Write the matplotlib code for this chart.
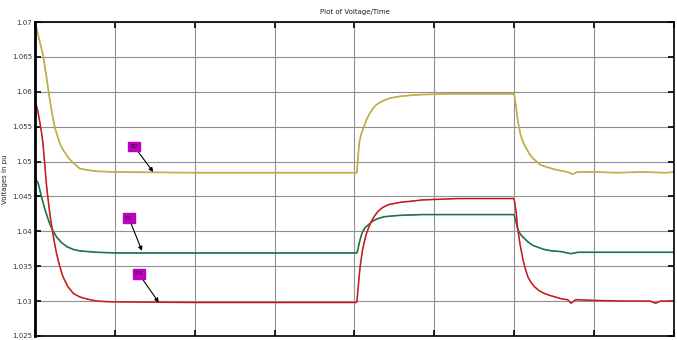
import numpy as np
import matplotlib.pyplot as plt

# ==== Bus voltages (pu) vs time ====
t_b2 = [0, 0.04, 0.10, 0.14, 0.17, 0.21, 0.25, 0.31, 0.35, 0.42, 0.48, 0.56, 0.65, 0.77,
        1.02, 2.0, 3.0, 4.02, 4.03, 4.04, 4.05, 4.06, 4.08, 4.125, 4.15, 4.19, 4.23, 4.27,
        4.32, 4.375, 4.45, 4.54, 4.7, 4.85, 5.2, 5.6, 5.99, 6.0, 6.02, 6.04, 6.06, 6.08,
        6.11, 6.15, 6.19, 6.23, 6.28, 6.33, 6.41, 6.5, 6.58, 6.67, 6.73, 6.79, 7.0, 7.3,
        7.6, 7.9, 8.0]
v_b2 = [1.0700, 1.0681, 1.0653, 1.0624, 1.0600, 1.0571, 1.0548, 1.0526, 1.0517, 1.0505,
        1.0498, 1.0490, 1.0488, 1.0486, 1.0485, 1.0484, 1.0484, 1.0484, 1.0484, 1.0500,
        1.0514, 1.0527, 1.0538, 1.0552, 1.0560, 1.0569, 1.0576, 1.0581, 1.0585, 1.0588,
        1.0591, 1.0593, 1.0595, 1.0596, 1.0597, 1.0597, 1.0597, 1.0595, 1.0581, 1.0562,
        1.0549, 1.0538, 1.0528, 1.0519, 1.0511, 1.0505, 1.0500, 1.0495, 1.0492, 1.0489,
        1.0487, 1.0485, 1.0482, 1.0485, 1.0485, 1.0484, 1.0485, 1.0484, 1.0485]

t_b1 = [0, 0.04, 0.08, 0.125, 0.16, 0.19, 0.22, 0.27, 0.33, 0.40, 0.48, 0.56, 0.77, 1.02,
        2.0, 3.0, 4.02, 4.03, 4.04, 4.055, 4.07, 4.085, 4.10, 4.13, 4.17, 4.21, 4.25, 4.31,
        4.375, 4.47, 4.58, 4.85, 5.3, 5.99, 6.0, 6.02, 6.04, 6.06, 6.09, 6.125, 6.17, 6.23,
        6.30, 6.375, 6.47, 6.58, 6.71, 6.8, 7.0, 7.5, 8.0]
v_b1 = [1.0476, 1.0469, 1.0450, 1.0431, 1.0419, 1.0409, 1.0402, 1.0392, 1.0384, 1.0378,
        1.0374, 1.0372, 1.0370, 1.0369, 1.0369, 1.0369, 1.0369, 1.0369, 1.0373, 1.0381,
        1.0388, 1.0394, 1.0399, 1.0405, 1.0409, 1.0413, 1.0416, 1.0419, 1.0421, 1.0422,
        1.0423, 1.0424, 1.0424, 1.0424, 1.0423, 1.0414, 1.0405, 1.0399, 1.0394, 1.0390,
        1.0385, 1.0380, 1.0377, 1.0374, 1.0372, 1.0371, 1.0368, 1.0370, 1.0370, 1.0370,
        1.0370]

t_b3 = [0, 0.01, 0.03, 0.06, 0.08, 0.10, 0.125, 0.145, 0.17, 0.19, 0.21, 0.24, 0.27, 0.31,
        0.35, 0.41, 0.48, 0.56, 0.65, 0.78, 0.94, 2.0, 3.0, 4.02, 4.03, 4.05, 4.06, 4.07,
        4.085, 4.10, 4.125, 4.15, 4.18, 4.21, 4.25, 4.29, 4.35, 4.42, 4.5, 4.60, 4.7, 4.85,
        5.3, 5.99, 6.0, 6.02, 6.03, 6.04, 6.055, 6.07, 6.09, 6.11, 6.14, 6.17, 6.21, 6.25,
        6.31, 6.375, 6.45, 6.54, 6.6, 6.67, 6.71, 6.77, 7.0, 7.4, 7.7, 7.77, 7.83, 8.0]
v_b3 = [1.0584, 1.0583, 1.0575, 1.0557, 1.0543, 1.0526, 1.0492, 1.0465, 1.0440, 1.0422,
        1.0407, 1.0386, 1.0368, 1.0350, 1.0335, 1.0321, 1.0311, 1.0306, 1.0303, 1.0300,
        1.0299, 1.0298, 1.0298, 1.0298, 1.0299, 1.0325, 1.0337, 1.0349, 1.0361, 1.0373,
        1.0386, 1.0397, 1.0406, 1.0414, 1.0422, 1.0428, 1.0434, 1.0438, 1.0440, 1.0442,
        1.0443, 1.0445, 1.0447, 1.0447, 1.0445, 1.0431, 1.0420, 1.0407, 1.0395, 1.0383,
        1.0371, 1.0359, 1.0346, 1.0335, 1.0327, 1.0321, 1.0315, 1.0311, 1.0308, 1.0305,
        1.0303, 1.0302, 1.0297, 1.0302, 1.0301, 1.0300, 1.0300, 1.0297, 1.0300, 1.0300]

# label text, box centre (t, v), arrow tip (t, v)
labels = ['B2', 'B1', 'B3']
label_pos = [(1.24, 1.0522), (1.175, 1.0419), (1.30, 1.0339)]
arrow_tip = [(1.48, 1.0485), (1.34, 1.0372), (1.55, 1.0298)]

fig = plt.figure(figsize=(6.77, 3.40), dpi=100)
ax = fig.add_axes([35/677, 4/340, 639/677, 314/340])

# under-layer gives the greyish edge, top layer the main colour
ax.plot(t_b2, v_b2, color='#b0a478', lw=1.2, marker='')
ax.plot(t_b2, v_b2, color='#d0b810', lw=0.6, marker='')
ax.plot(t_b1, v_b1, color='#4f6e64', lw=1.2, marker='')
ax.plot(t_b1, v_b1, color='#008030', lw=0.6, marker='')
ax.plot(t_b3, v_b3, color='#a06868', lw=1.2, marker='')
ax.plot(t_b3, v_b3, color='#ee0000', lw=0.7, marker='')

for txt, pos, tip in zip(labels, label_pos, arrow_tip):
    ax.annotate(txt, xy=tip, xytext=pos, fontsize=4.5, color='#300030',
                ha='center', va='center',
                bbox=dict(boxstyle='square,pad=0.35', fc='#c000c0', ec='#c000c0'),
                arrowprops=dict(arrowstyle='-|>', color='black', lw=0.8,
                                mutation_scale=6, shrinkA=0, shrinkB=0))

ax.set_xlim(0, 8)
ax.set_ylim(1.025, 1.07)
ax.set_xticks(np.arange(0, 9, 1))
ax.set_xticklabels([])
ax.set_yticks(np.arange(1.025, 1.0701, 0.005))
ax.set_yticklabels(['1.025', '1.03', '1.035', '1.04', '1.045', '1.05',
                    '1.055', '1.06', '1.065', '1.07'])
ax.tick_params(direction='in', length=4, width=1.2, labelsize=5, pad=2,
               top=True, right=True, colors='black', labelcolor='#333333')
ax.grid(True, color='#909090', lw=0.8)
ax.set_axisbelow(True)
for sp in ax.spines.values():
    sp.set_linewidth(1.2)
ax.spines['left'].set_linewidth(2)

ax.set_ylabel('Voltages in pu', fontsize=5, labelpad=3, color='#222222')
ax.set_title('Plot of Voltage/Time', fontsize=5, pad=6, color='#222222')

fig.savefig('out.png', dpi=100)
